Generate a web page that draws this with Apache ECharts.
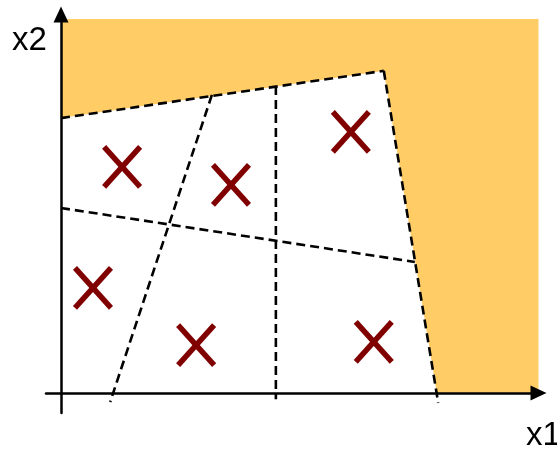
<!DOCTYPE html>
<html>
<head>
<meta charset="utf-8">
<script src="https://cdn.jsdelivr.net/npm/echarts@6/dist/echarts.min.js"></script>
<style>
  html, body { margin: 0; padding: 0; background: #fff; }
  #chart { width: 557px; height: 449px; }
</style>
</head>
<body>
<div id="chart"></div>
<script>
// feasible region is white, the rest of the box is shaded
var shadedRegion = [[0, 5.81], [0, 7.905], [10, 7.905], [10, 0], [7.87, 0], [6.76, 6.81]]

// dashed partition lines, each [start, end]
var boundaryTop = [[0, 5.81], [6.76, 6.81]]
var boundaryRight = [[6.76, 6.81], [7.90, -0.21]]
var splitMiddle = [[0, 3.91], [7.41, 2.77]]
var splitSlant = [[3.16, 6.30], [1.03, -0.19]]
var splitVertical = [[4.50, 6.49], [4.50, -0.13]]

// cluster centres (crosses)
var centres = [
  [1.28, 4.78],
  [3.56, 4.40],
  [6.07, 5.52],
  [0.67, 2.22],
  [2.83, 1.01],
  [6.55, 1.08]
]

var myChart = echarts.init(document.getElementById('chart'), null, { renderer: 'canvas' })

function dashed (pts) {
  return {
    type: 'line',
    data: pts,
    symbol: 'none',
    silent: true,
    z: 4,
    lineStyle: { color: '#000', width: 2.6, type: [9, 5] }
  }
}

var option = {
  animation: false,
  grid: { left: 46, right: 18.5, top: 14.5, bottom: 36 },
  xAxis: {
    type: 'value',
    min: -0.314,
    max: 10,
    z: 5,
    axisLine: {
      show: true,
      onZero: true,
      symbol: ['none', 'triangle'],
      symbolSize: [15, 16],
      lineStyle: { color: '#000', width: 2.5 }
    },
    axisTick: { show: false },
    axisLabel: { show: false },
    splitLine: { show: false }
  },
  yAxis: {
    type: 'value',
    min: -0.423,
    max: 8,
    z: 5,
    axisLine: {
      show: true,
      onZero: true,
      symbol: ['none', 'triangle'],
      symbolSize: [15, 16],
      lineStyle: { color: '#000', width: 2.5 }
    },
    axisTick: { show: false },
    axisLabel: { show: false },
    splitLine: { show: false }
  },
  graphic: [
    {
      type: 'text',
      left: 12, top: 24,
      style: { text: 'x2', font: '33px "Liberation Sans", Arial, sans-serif', fill: '#000' }
    },
    {
      type: 'text',
      left: 526, top: 419,
      style: { text: 'x1', font: '33px "Liberation Sans", Arial, sans-serif', fill: '#000' }
    }
  ],
  series: [
    {
      type: 'custom',
      silent: true,
      z: 1,
      data: [0],
      renderItem: function (params, api) {
        return {
          type: 'polygon',
          shape: { points: shadedRegion.map(function (p) { return api.coord(p) }) },
          style: { fill: '#FFCC66' }
        }
      }
    },
    dashed(boundaryTop),
    dashed(boundaryRight),
    dashed(splitMiddle),
    dashed(splitSlant),
    dashed(splitVertical),
    {
      type: 'custom',
      silent: true,
      z: 6,
      data: centres,
      renderItem: function (params, api) {
        var c = api.coord([api.value(0), api.value(1)])
        var hw = 18, hh = 20
        var st = { stroke: '#800000', lineWidth: 5.5 }
        return {
          type: 'group',
          children: [
            { type: 'line', shape: { x1: c[0] - hw, y1: c[1] - hh, x2: c[0] + hw, y2: c[1] + hh }, style: st },
            { type: 'line', shape: { x1: c[0] - hw, y1: c[1] + hh, x2: c[0] + hw, y2: c[1] - hh }, style: st }
          ]
        }
      }
    }
  ]
}
myChart.setOption(option)
</script>
</body>
</html>
